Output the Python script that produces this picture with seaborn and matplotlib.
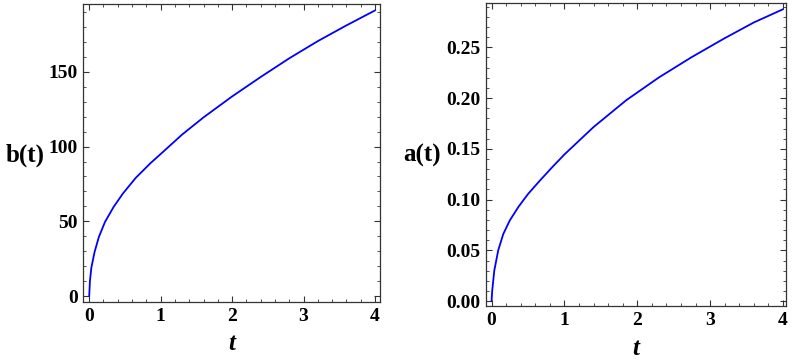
import matplotlib
matplotlib.use("Agg")
import matplotlib.pyplot as plt
import seaborn as sns
from matplotlib.ticker import MultipleLocator, FormatStrFormatter

# values
t_b = [0, 0.01, 0.03, 0.075, 0.135, 0.22, 0.34, 0.47, 0.65, 0.86, 1.0,
       1.3, 1.6, 2.0, 2.4, 2.8, 3.2, 3.6, 4.0]
b_vals = [0, 10, 19, 29.5, 39.5, 49.5, 59.5, 68.5, 79, 89, 95,
          108, 119.5, 133.5, 146.5, 159, 170.5, 181, 191]

t_a = [0, 0.009, 0.037, 0.091, 0.16, 0.25, 0.37, 0.50, 0.66, 0.82, 1.0,
       1.4, 1.85, 2.3, 2.75, 3.2, 3.6, 4.0]
a_vals = [0, 0.0105, 0.030, 0.050, 0.066, 0.0795, 0.093, 0.1055, 0.1185, 0.131, 0.1445,
          0.1715, 0.198, 0.2205, 0.2405, 0.259, 0.2745, 0.2875]

x_ticks = [0, 1, 2, 3, 4]
b_ticks = [0, 50, 100, 150]
a_ticks = [0.00, 0.05, 0.10, 0.15, 0.20, 0.25]

sns.set_style("ticks")
plt.rcParams['font.family'] = ['Liberation Serif', 'DejaVu Serif']
plt.rcParams['font.weight'] = 'bold'
plt.rcParams['text.color'] = 'black'
plt.rcParams['axes.labelcolor'] = 'black'

fig = plt.figure(figsize=(8, 3.64), dpi=100)
ax1 = fig.add_axes([0.104, 0.170, 0.371, 0.819])
ax2 = fig.add_axes([0.607, 0.159, 0.376, 0.832])

frame_col = '#333333'


def style_axis(ax, yminor):
    for sp in ax.spines.values():
        sp.set_color(frame_col)
        sp.set_linewidth(0.9)
    ax.xaxis.set_minor_locator(MultipleLocator(0.2))
    ax.yaxis.set_minor_locator(MultipleLocator(yminor))
    ax.tick_params(which='both', direction='in', top=True, right=True,
                   color=frame_col, labelcolor='black')
    ax.tick_params(which='major', length=4.5, width=0.8, labelsize=14, pad=4)
    ax.tick_params(which='minor', length=2.2, width=0.6)
    for lab in ax.get_xticklabels() + ax.get_yticklabels():
        lab.set_fontweight('bold')


# left panel: b(t)
sns.lineplot(x=t_b, y=b_vals, ax=ax1, color='#0000ff', lw=1.3, sort=False)
ax1.set_xlim(-0.084, 4.07)
ax1.set_ylim(-4.0, 195.3)
ax1.set_xticks(x_ticks)
ax1.set_yticks(b_ticks)
style_axis(ax1, 10)
ax1.set_ylabel('b(t)', rotation=0, fontsize=18, fontweight='bold', ha='center', va='center')
ax1.yaxis.set_label_coords(-0.197, 0.493)
ax1.set_xlabel('t', fontsize=18, fontweight='bold', style='italic', va='center')
ax1.xaxis.set_label_coords(0.5, -0.14)

# right panel: a(t)
sns.lineplot(x=t_a, y=a_vals, ax=ax2, color='#0000ff', lw=1.3, sort=False)
ax2.set_xlim(-0.082, 4.047)
ax2.set_ylim(-0.0049, 0.2934)
ax2.set_xticks(x_ticks)
ax2.set_yticks(a_ticks)
ax2.yaxis.set_major_formatter(FormatStrFormatter('%.2f'))
style_axis(ax2, 0.01)
ax2.set_ylabel('a(t)', rotation=0, fontsize=18, fontweight='bold', ha='center', va='center')
ax2.yaxis.set_label_coords(-0.21, 0.499)
ax2.set_xlabel('t', fontsize=18, fontweight='bold', style='italic', va='center')
ax2.xaxis.set_label_coords(0.5, -0.14)

fig.savefig('out.png', dpi=100)
